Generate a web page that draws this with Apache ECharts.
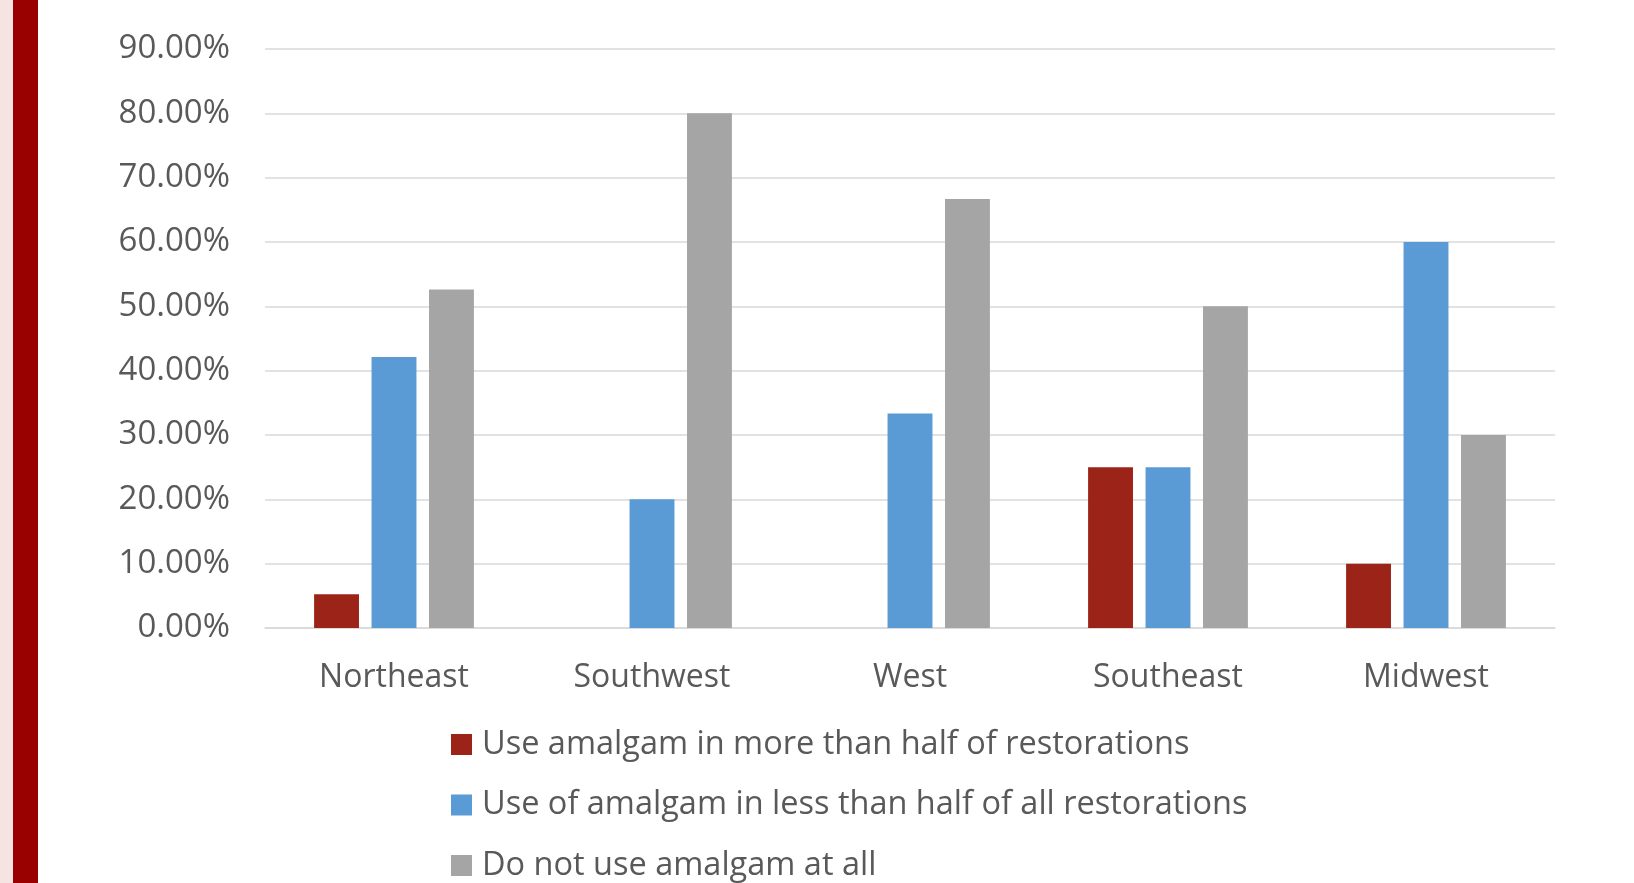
<!DOCTYPE html>
<html>
<head>
<meta charset="utf-8">
<title>Amalgam use by region</title>
<script src="https://cdn.jsdelivr.net/npm/echarts@6/dist/echarts.min.js"></script>
<style>
  html, body { margin: 0; padding: 0; background: #ffffff; }
  #chart { width: 1634px; height: 883px; }
</style>
</head>
<body>
<div id="chart"></div>
<script>
// Regions on the category axis
const regions = ['Northeast', 'Southwest', 'West', 'Southeast', 'Midwest'];

// Share of respondents per region, in percent
const moreThanHalf = [5.26, 0, 0, 25, 10];
const lessThanHalf = [42.11, 20, 33.33, 25, 60];
const notAtAll = [52.63, 80, 66.67, 50, 30];

// Series names shown in the legend
const seriesNames = [
  'Use amalgam in more than half of restorations',
  'Use of amalgam in less than half of all restorations',
  'Do not use amalgam at all'
];

const seriesColors = ['#9C2317', '#5B9BD5', '#A5A5A5'];
const textColor = '#595959';
const gridColor = '#D9D9D9';
const fontFamily = '"Open Sans", "Noto Sans", sans-serif';

const chart = echarts.init(document.getElementById('chart'), null, { renderer: 'canvas' });

const seriesData = [moreThanHalf, lessThanHalf, notAtAll];

chart.setOption({
  animation: false,
  backgroundColor: '#ffffff',
  textStyle: { fontFamily: fontFamily },
  graphic: [
    // decorative slide edge on the left
    { type: 'rect', left: 0, top: 0, shape: { width: 13, height: 883 }, style: { fill: '#F6E4E2' }, silent: true },
    { type: 'rect', left: 13, top: 0, shape: { width: 25, height: 883 }, style: { fill: '#990000' }, silent: true }
  ],
  grid: {
    left: 265,
    right: 79,
    top: 49,
    bottom: 255,
    containLabel: false
  },
  legend: {
    orient: 'vertical',
    left: 446,
    top: 723,
    height: 400,
    icon: 'rect',
    itemWidth: 21,
    itemHeight: 21,
    itemGap: 27.5,
    selectedMode: false,
    textStyle: {
      color: textColor,
      fontSize: 32.5,
      fontFamily: fontFamily,
      lineHeight: 21,
      padding: [0, 0, 0, 5]
    },
    data: seriesNames
  },
  xAxis: {
    type: 'category',
    data: regions,
    axisLine: { show: true, lineStyle: { color: gridColor, width: 1.5 } },
    axisTick: { show: false },
    axisLabel: {
      color: textColor,
      fontSize: 32,
      fontFamily: fontFamily,
      margin: 34
    }
  },
  yAxis: {
    type: 'value',
    min: 0,
    max: 90,
    interval: 10,
    axisLine: { show: false },
    axisTick: { show: false },
    splitLine: { show: true, lineStyle: { color: gridColor, width: 1.5 } },
    axisLabel: {
      color: textColor,
      fontSize: 33,
      fontFamily: fontFamily,
      margin: 35,
      formatter: function (v) { return v.toFixed(2) + '%'; }
    }
  },
  series: seriesData.map(function (values, i) {
    return {
      name: seriesNames[i],
      type: 'bar',
      data: values,
      barWidth: '17.4%',
      barGap: '28%',
      itemStyle: { color: seriesColors[i] }
    };
  })
});
</script>
</body>
</html>
